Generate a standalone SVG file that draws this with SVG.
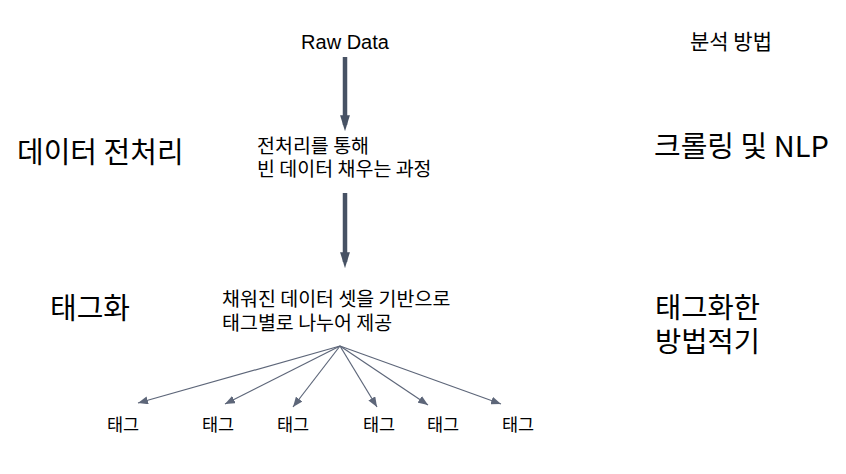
<svg xmlns="http://www.w3.org/2000/svg" width="846" height="474" viewBox="0 0 846 474">
<style>
.ko{font-family:"Noto Sans CJK KR","Noto Sans",sans-serif;fill:#000}
.en{font-family:"Liberation Sans",Arial,sans-serif;fill:#000}
.big{stroke:#475264;stroke-width:4.5;fill:none}
.thin{stroke:#5d6679;stroke-width:1.2;fill:none}
</style>
<defs>
<marker id="bigHead" markerUnits="userSpaceOnUse" markerWidth="16" markerHeight="26" refX="16" refY="8" orient="auto" viewBox="0 0 26 16">
<path d="M0,0 L26,8 L0,16 Z" fill="#475264"/>
</marker>
<marker id="smallHead" markerUnits="userSpaceOnUse" markerWidth="10" markerHeight="8" refX="10" refY="4" orient="auto" viewBox="0 0 10 8">
<path d="M0,0 L10,4 L0,8 Z" fill="#5d6679"/>
</marker>
</defs>
<rect width="846" height="474" fill="#fff"/>
<g id="raw-data"><text class="en" x="345" y="49" font-size="20" text-anchor="middle">Raw Data</text></g>
<g id="header-method"><text class="ko" x="690" y="49" font-size="21">분석 방법</text></g>
<g id="label-preprocess"><text class="ko" x="17" y="163" font-size="29">데이터 전처리</text></g>
<g id="desc-preprocess">
<text class="ko" x="257" y="153" font-size="19.5">전처리를 통해</text>
<text class="ko" x="257" y="176" font-size="19.5">빈 데이터 채우는 과정</text>
</g>
<g id="method-crawl"><text class="ko" x="654" y="157" font-size="29">크롤링 및 NLP</text></g>
<g id="label-tag"><text class="ko" x="50" y="319" font-size="29">태그화</text></g>
<g id="desc-tag">
<text class="ko" x="222" y="306" font-size="19.5">채워진 데이터 셋을 기반으로</text>
<text class="ko" x="222" y="330" font-size="19.5">태그별로 나누어 제공</text>
</g>
<g id="method-tag">
<text class="ko" x="655" y="318" font-size="28.5">태그화한</text>
<text class="ko" x="655" y="352" font-size="28.5">방법적기</text>
</g>
<g id="tag1"><text class="ko" x="107" y="431" font-size="17.5">태그</text></g>
<g id="tag2"><text class="ko" x="202" y="431" font-size="17.5">태그</text></g>
<g id="tag3"><text class="ko" x="277" y="431" font-size="17.5">태그</text></g>
<g id="tag4"><text class="ko" x="363" y="431" font-size="17.5">태그</text></g>
<g id="tag5"><text class="ko" x="427" y="431" font-size="17.5">태그</text></g>
<g id="tag6"><text class="ko" x="502" y="431" font-size="17.5">태그</text></g>
<g id="connectors">
<line class="big" x1="345" y1="57" x2="345" y2="125" marker-end="url(#bigHead)"/>
<line class="big" x1="345" y1="193" x2="345" y2="262" marker-end="url(#bigHead)"/>
<line class="thin" x1="340" y1="346" x2="138" y2="403" marker-end="url(#smallHead)"/>
<line class="thin" x1="340" y1="346" x2="225" y2="404" marker-end="url(#smallHead)"/>
<line class="thin" x1="340" y1="346" x2="293" y2="407" marker-end="url(#smallHead)"/>
<line class="thin" x1="340" y1="346" x2="377" y2="407" marker-end="url(#smallHead)"/>
<line class="thin" x1="340" y1="346" x2="428" y2="405" marker-end="url(#smallHead)"/>
<line class="thin" x1="340" y1="346" x2="501" y2="404" marker-end="url(#smallHead)"/>
</g>
</svg>
